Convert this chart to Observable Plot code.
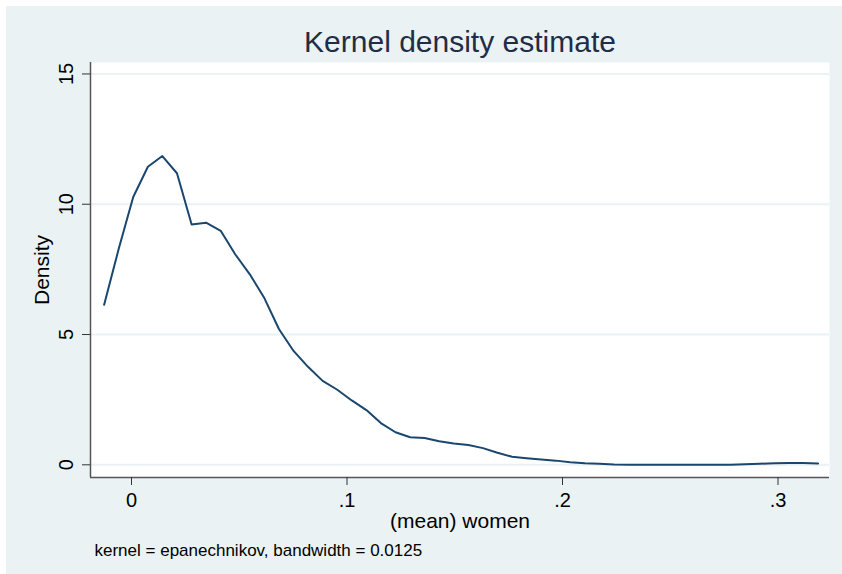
<!DOCTYPE html>
<html><head><meta charset="utf-8">
<script src="https://cdn.jsdelivr.net/npm/d3@7"></script>
<script src="https://cdn.jsdelivr.net/npm/@observablehq/plot@0.6"></script>
<style>
html,body{margin:0;padding:0;background:#fff;}
#wrap{position:relative;width:842px;height:574px;background:#fff;overflow:hidden;}
#bg{position:absolute;left:6px;top:6px;right:0;bottom:0;background:#EAF2F3;}
#chart{position:absolute;left:0;top:0;}
</style></head><body>
<div id="wrap"><div id="bg"></div><div id="chart"></div></div>
<script>
// evaluation grid of the kernel density estimate ((mean) women)
const gridX = [-0.0127, -0.0059, 0.0008, 0.0076, 0.0143, 0.0211, 0.0279, 0.0346, 0.0414, 0.0481,
  0.0549, 0.0617, 0.0684, 0.0752, 0.0819, 0.0887, 0.0955, 0.1022, 0.1090, 0.1157,
  0.1225, 0.1293, 0.1360, 0.1428, 0.1495, 0.1563, 0.1631, 0.1698, 0.1766, 0.1833,
  0.1901, 0.1969, 0.2036, 0.2104, 0.2171, 0.2239, 0.2307, 0.2374, 0.2442, 0.2509,
  0.2577, 0.2645, 0.2712, 0.2780, 0.2847, 0.2915, 0.2983, 0.3050, 0.3118, 0.3186];
// density values
const density = [6.14, 8.30, 10.28, 11.44, 11.85, 11.19, 9.22, 9.29, 8.98, 8.08,
  7.31, 6.39, 5.21, 4.37, 3.76, 3.22, 2.88, 2.47, 2.10, 1.60,
  1.25, 1.06, 1.03, 0.90, 0.82, 0.76, 0.64, 0.46, 0.31, 0.25,
  0.20, 0.16, 0.10, 0.06, 0.04, 0.01, 0.00, 0.00, 0.00, 0.00,
  0.00, 0.00, 0.00, 0.00, 0.02, 0.04, 0.06, 0.07, 0.07, 0.05];
const xTicks = [0, 0.1, 0.2, 0.3];
const xTickLabels = ["0", ".1", ".2", ".3"];
const yTicks = [0, 5, 10, 15];
const yTickLabels = ["0", "5", "10", "15"];
const titleText = "Kernel density estimate";
const xTitle = "(mean) women";
const yTitle = "Density";
const noteText = "kernel = epanechnikov, bandwidth = 0.0125";

const data = gridX.map((x, i) => ({x, y: density[i]}));
const xDomain = [-0.01903, 0.32390];
const yDomain = [-0.4875, 15.44];
const font = "'Liberation Sans', Arial, Helvetica, sans-serif";

const chart = Plot.plot({
  width: 842,
  height: 574,
  marginLeft: 90,
  marginRight: 13,
  marginTop: 62,
  marginBottom: 97,
  style: {background: "transparent", fontFamily: font, fontSize: "20px", color: "#000"},
  x: {domain: xDomain, axis: null},
  y: {domain: yDomain, axis: null},
  marks: [
    Plot.frame({fill: "white", stroke: null}),
    Plot.gridY(yTicks, {stroke: "#EAF2F3", strokeOpacity: 1, strokeWidth: 2}),
    Plot.ruleX([xDomain[0]], {stroke: "#555", strokeWidth: 1.5}),
    Plot.ruleY([yDomain[0]], {stroke: "#555", strokeWidth: 1.5}),
    Plot.axisX({ticks: xTicks, tickSize: 8, tickPadding: 7, tickFormat: (d, i) => xTickLabels[i], fontSize: 20, label: null, stroke: "#333", fill: "#000"}),
    Plot.axisY({ticks: yTicks, tickSize: 8, tickFormat: () => "", label: null, stroke: "#333"}),
    Plot.text(yTicks, {x: xDomain[0], y: d => d, text: (d, i) => yTickLabels[i], rotate: -90, dx: -24, fontSize: 20, fill: "#000", textAnchor: "middle", lineAnchor: "middle"}),
    Plot.line(data, {x: "x", y: "y", stroke: "#1a476f", strokeWidth: 2, curve: "linear"}),
    Plot.text([titleText], {frameAnchor: "top", dy: -20, fontSize: 30, fill: "#1f2d48", lineAnchor: "middle"}),
    Plot.text([xTitle], {frameAnchor: "bottom", dy: 44, fontSize: 21, fill: "#000", lineAnchor: "middle"}),
    Plot.text([yTitle], {frameAnchor: "left", dx: -48, rotate: -90, fontSize: 21, fill: "#000", textAnchor: "middle", lineAnchor: "middle"}),
    Plot.text([noteText], {frameAnchor: "bottom-left", dx: 4, dy: 73, fontSize: 17, fill: "#000", textAnchor: "start", lineAnchor: "middle"})
  ]
});
document.getElementById("chart").appendChild(chart);
</script>
</body></html>
